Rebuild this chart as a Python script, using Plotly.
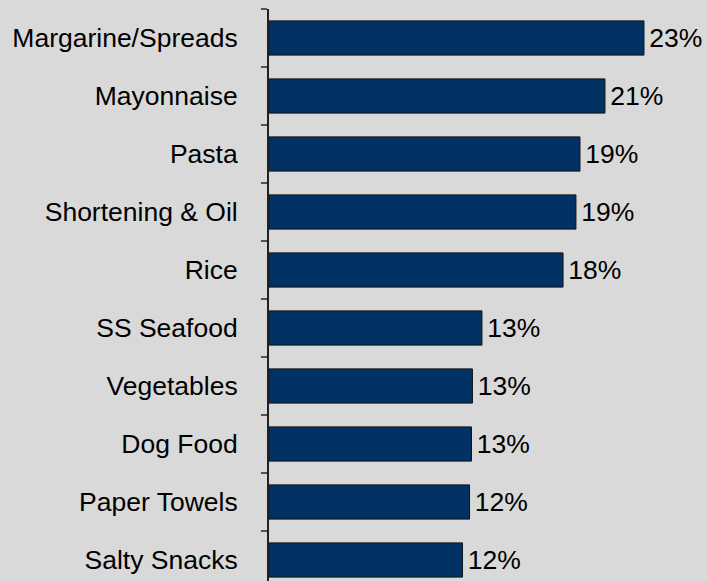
import plotly.graph_objects as go

# Category share (%) by product, listed top to bottom
categories = [
    "Margarine/Spreads",
    "Mayonnaise",
    "Pasta",
    "Shortening & Oil",
    "Rice",
    "SS Seafood",
    "Vegetables",
    "Dog Food",
    "Paper Towels",
    "Salty Snacks",
]
shares = [23.26, 20.84, 19.29, 19.04, 18.24, 13.21, 12.62, 12.56, 12.44, 12.00]

BG = "#d9d9d9"
NAVY = "#023263"
FONT = "Liberation Sans, Arial, sans-serif"

fig = go.Figure(
    go.Bar(
        y=categories,
        x=shares,
        orientation="h",
        marker=dict(color=NAVY, line=dict(color="#111111", width=1)),
        texttemplate="\u200a%{x:.0f}%",
        textposition="outside",
        textfont=dict(family=FONT, size=26.5, color="#000000"),
        cliponaxis=False,
        hoverinfo="skip",
    )
)

fig.update_layout(
    width=707,
    height=581,
    margin=dict(l=269, r=0, t=9, b=0),
    paper_bgcolor=BG,
    plot_bgcolor=BG,
    bargap=0.41,
    showlegend=False,
    font=dict(family=FONT, size=26.5, color="#000000"),
)

fig.update_xaxes(
    range=[0, 27.17],
    visible=False,
    showgrid=False,
    zeroline=False,
)

fig.update_yaxes(
    type="category",
    categoryorder="array",
    categoryarray=categories,
    range=[9.362, -0.5],
    showline=True,
    linecolor="#222222",
    linewidth=2,
    ticks="outside",
    tickson="boundaries",
    ticklen=6,
    tickwidth=2,
    tickcolor="#555555",
    ticklabelstandoff=24,
    showgrid=False,
    zeroline=False,
    tickfont=dict(family=FONT, size=26.5, color="#000000"),
)

fig.write_html("out.html")
